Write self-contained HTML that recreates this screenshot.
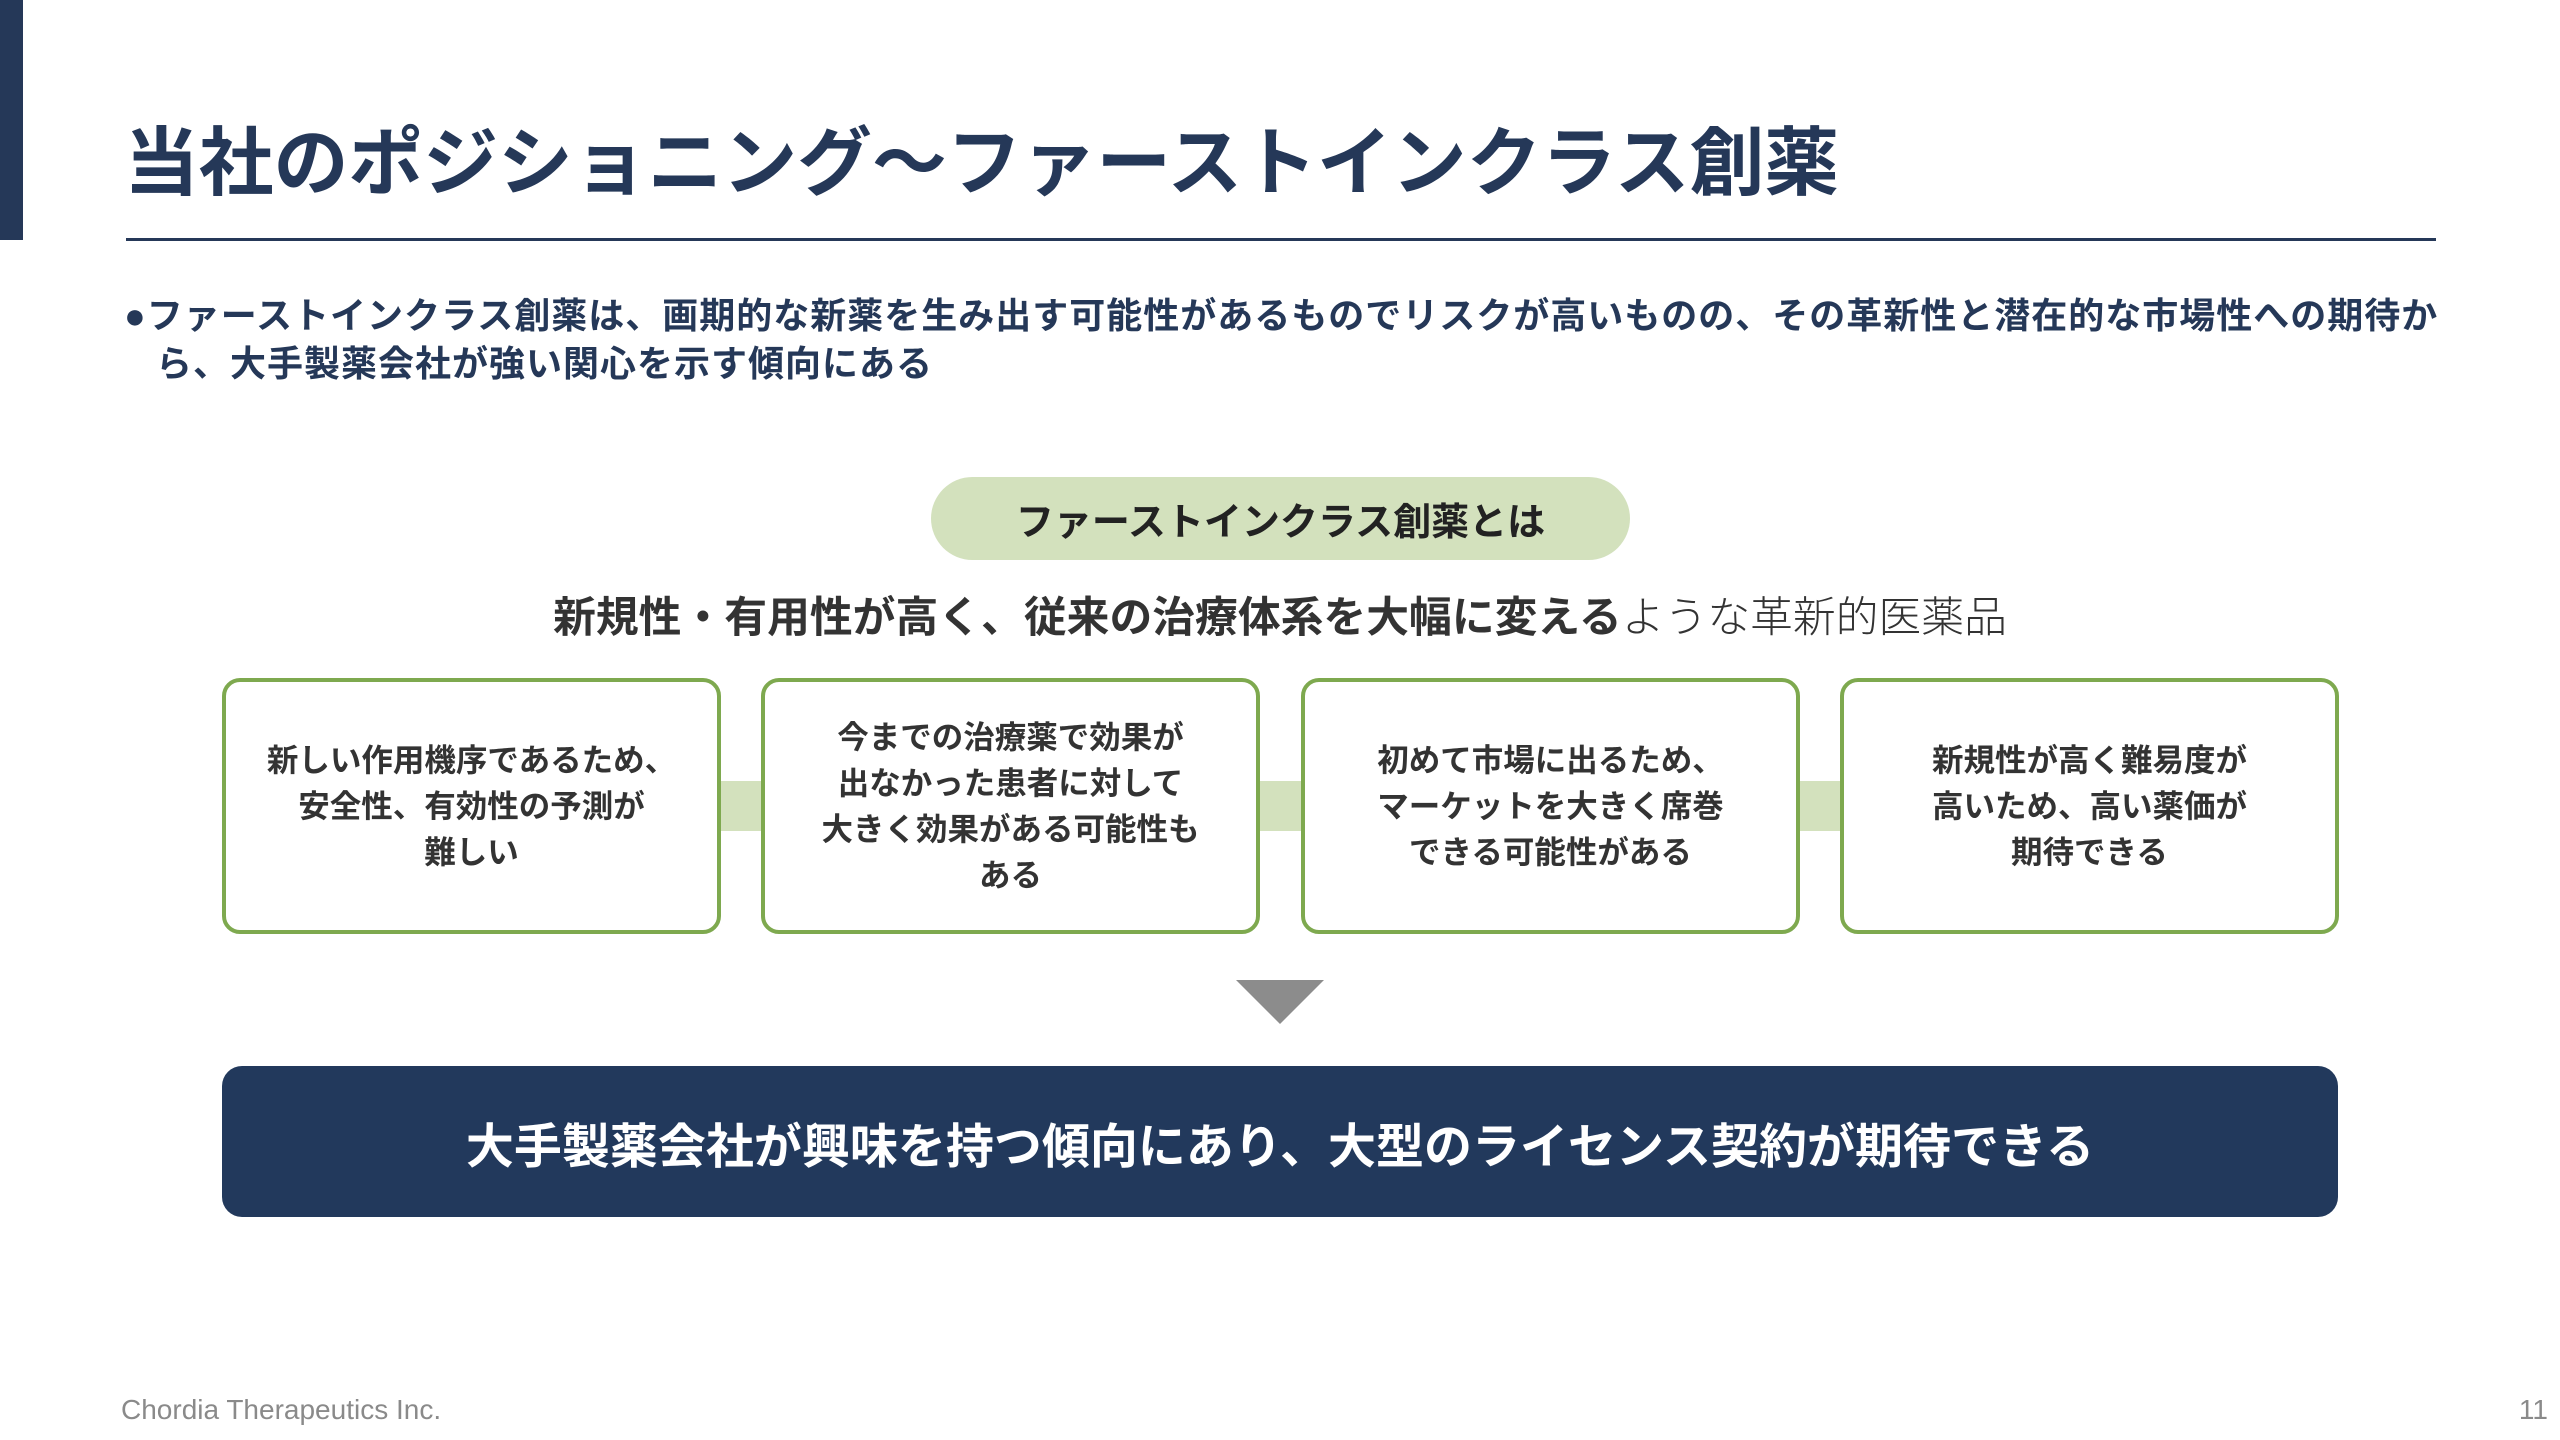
<!DOCTYPE html>
<html><head><meta charset="utf-8"><style>
*{margin:0;padding:0;box-sizing:border-box}
body{width:2560px;height:1440px;background:#fff;position:relative;overflow:hidden;font-family:"Liberation Sans","Noto Sans CJK JP",sans-serif}
.a{position:absolute}
.box{position:absolute;top:678px;width:499px;height:256px;border:4px solid #7ea94f;border-radius:18px;background:#fff;display:flex;align-items:center;justify-content:center;text-align:center;font-size:31.5px;line-height:46px;color:#333;font-weight:700}
.con{position:absolute;top:781px;height:50px;background:#d3e1bd}
</style></head><body>
<div class="a" style="left:0;top:0;width:23px;height:240px;background:#253858"></div>
<div class="a" style="left:124px;top:118px;font-size:74.8px;line-height:90px;font-weight:700;color:#253858;white-space:nowrap">当社のポジショニング～ファーストインクラス創薬</div>
<div class="a" style="left:126px;top:238px;width:2310px;height:3px;background:#253858"></div>
<div class="a" style="left:124px;top:292px;width:2340px;font-size:36px;line-height:48px;font-weight:700;color:#253858;padding-left:32px;text-indent:-32px;letter-spacing:1px">●ファーストインクラス創薬は、画期的な新薬を生み出す可能性があるものでリスクが高いものの、その革新性と潜在的な市場性への期待から、大手製薬会社が強い関心を示す傾向にある</div>
<div class="a" style="left:931px;top:477px;width:699px;height:83px;border-radius:42px;background:#d3e1bd;display:flex;align-items:center;justify-content:center;font-size:38px;font-weight:700;color:#222">ファーストインクラス創薬とは</div>
<div class="a" style="left:0;top:590px;width:2560px;text-align:center;font-size:42.8px;line-height:56px;color:#333;white-space:nowrap"><b>新規性・有用性が高く、従来の治療体系を大幅に変える</b><span style="font-weight:300">ような革新的医薬品</span></div>
<div class="con" style="left:718px;width:45px"></div>
<div class="con" style="left:1257px;width:46px"></div>
<div class="con" style="left:1798px;width:44px"></div>
<div class="box" style="left:222px">新しい作用機序であるため、<br>安全性、有効性の予測が<br>難しい</div>
<div class="box" style="left:761px">今までの治療薬で効果が<br>出なかった患者に対して<br>大きく効果がある可能性も<br>ある</div>
<div class="box" style="left:1301px">初めて市場に出るため、<br>マーケットを大きく席巻<br>できる可能性がある</div>
<div class="box" style="left:1840px">新規性が高く難易度が<br>高いため、高い薬価が<br>期待できる</div>
<div class="a" style="left:1236px;top:980px;width:0;height:0;border-left:44px solid transparent;border-right:44px solid transparent;border-top:44px solid #8c8c8c"></div>
<div class="a" style="left:222px;top:1066px;width:2116px;height:151px;border-radius:20px;background:#22395c;display:flex;align-items:center;justify-content:center;color:#fff;font-size:48px;font-weight:700">大手製薬会社が興味を持つ傾向にあり、大型のライセンス契約が期待できる</div>
<div class="a" style="left:121px;top:1394px;font-size:28px;color:#8a8a8a">Chordia Therapeutics Inc.</div>
<div class="a" style="right:12px;top:1394px;font-size:28px;color:#8a8a8a">11</div>
</body></html>
